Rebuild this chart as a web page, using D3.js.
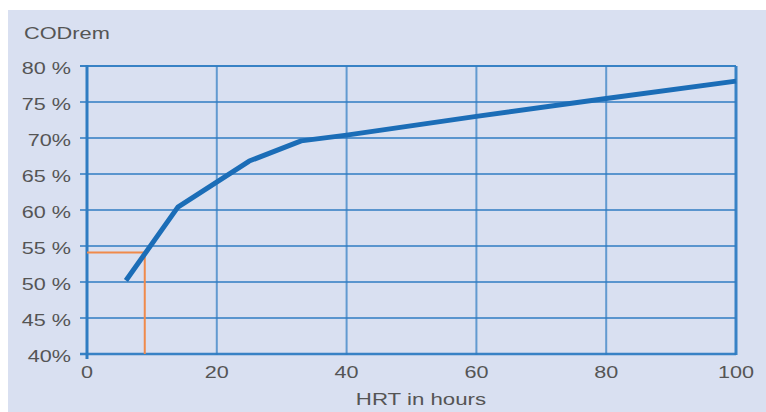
<!DOCTYPE html>
<html><head><meta charset="utf-8">
<script src="https://cdn.jsdelivr.net/npm/d3@7"></script>
<style>body{margin:0;background:#fff}svg{display:block}</style>
</head><body>
<svg id="c" width="766" height="412"></svg>
<script>
const hrt = [6, 14, 25, 33, 40, 60, 80, 100];
const codRem = [50.2, 60.4, 66.8, 69.6, 70.4, 73.0, 75.5, 77.9];
const markerX = 8.9, markerY = 54.1;
const yTicks = [40, 45, 50, 55, 60, 65, 70, 75, 80];
const yTickLabels = ["40%", "45 %", "50 %", "55 %", "60 %", "65 %", "70%", "75 %", "80 %"];
const xTicks = [0, 20, 40, 60, 80, 100];

const svg = d3.select("#c");
svg.append("rect").attr("x", 8).attr("y", 10).attr("width", 758).attr("height", 402).attr("fill", "#d9e0f1");

const x = d3.scaleLinear().domain([0, 100]).range([87, 736]);
const y = d3.scaleLinear().domain([40, 80]).range([354, 66]);
const gridCol = "#2f7cc2";
const font = "Liberation Sans, Arial, sans-serif";
const txtCol = "#555555";

function label(px, py, txt, size, anchor, sx) {
  svg.append("g").attr("transform", `translate(${px},${py}) scale(${sx},1)`)
    .append("text").attr("text-anchor", anchor)
    .attr("font-family", font).attr("font-size", size).attr("fill", txtCol).text(txt);
}

// horizontal grid
svg.append("g").selectAll("line").data(yTicks).join("line")
  .attr("x1", x(0) - 7).attr("x2", x(100))
  .attr("y1", d => y(d)).attr("y2", d => y(d))
  .attr("stroke", gridCol).attr("stroke-opacity", d => d === 40 || d === 80 ? 0.95 : 0.75)
  .attr("stroke-width", d => d === 40 ? 2.5 : 2);
// vertical grid
svg.append("g").selectAll("line").data(xTicks.filter(d => d > 0)).join("line")
  .attr("x1", d => x(d)).attr("x2", d => x(d))
  .attr("y1", y(80)).attr("y2", y(40) + 1)
  .attr("stroke", gridCol).attr("stroke-opacity", d => d === 100 ? 0.95 : 0.7)
  .attr("stroke-width", d => d === 100 ? 3 : 2);
// left axis
svg.append("line").attr("x1", x(0)).attr("x2", x(0)).attr("y1", y(80) - 1).attr("y2", y(40) + 5)
  .attr("stroke", gridCol).attr("stroke-width", 3);

// y labels
yTicks.forEach((d, i) => label(71, y(d) + 8, yTickLabels[i], 16, "end", 1.35));
// x labels
xTicks.forEach(d => label(x(d), 378, String(d), 16, "middle", 1.35));

label(24, 39, "CODrem", 17, "start", 1.28);
label(421, 405, "HRT in hours", 17, "middle", 1.31);

// orange marker
svg.append("path")
  .attr("d", `M${x(0)},${y(markerY)}H${x(markerX)}V${y(40)}`)
  .attr("fill", "none").attr("stroke", "#f08a4b").attr("stroke-width", 2);

// curve
const line = d3.line().x((d, i) => x(hrt[i])).y(d => y(d));
svg.append("path").datum(codRem).attr("d", line)
  .attr("fill", "none").attr("stroke", "#1b6db7").attr("stroke-width", 5)
  .attr("stroke-linejoin", "round");
</script>
</body></html>
